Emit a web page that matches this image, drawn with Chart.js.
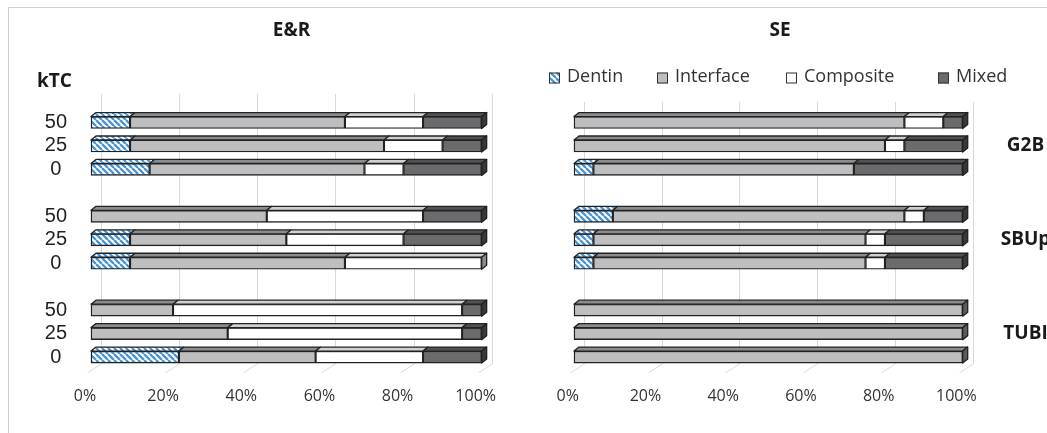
<!DOCTYPE html>
<html>
<head>
<meta charset="utf-8">
<script src="https://cdn.jsdelivr.net/npm/chart.js@4.4.1/dist/chart.umd.min.js"></script>
<style>
  html, body { margin: 0; padding: 0; background: #fff; overflow: hidden; width: 1047px; height: 433px; }
  #frame { position: absolute; left: 8px; top: 7px; width: 1200px; height: 600px;
           border-top: 1px solid #cfcfcf; border-left: 1px solid #cfcfcf; }
  #wrapL { position: absolute; left: 0; top: 0; width: 520px; height: 433px; }
  #wrapR { position: absolute; left: 520px; top: 0; width: 560px; height: 433px; }
</style>
</head>
<body>
<div id="frame"></div>
<div id="wrapL"><canvas id="chartER"></canvas></div>
<div id="wrapR"><canvas id="chartSE"></canvas></div>
<script>
// Rows: three kTC levels per adhesive, blank rows separate the groups
const rowLabels   = ['50', '25', '0', '', '50', '25', '0', '', '50', '25', '0'];
const groupLabels = ['', 'G2B', '', '', '', 'SBUp', '', '', '', 'TUBI', ''];
const seriesNames = ['Dentin', 'Interface', 'Composite', 'Mixed'];
const xTicks      = [0, 20, 40, 60, 80, 100];

// E&R (% of specimens per failure mode)
const erDentin    = [10, 10, 15, null, 0, 10, 10, null, 0, 0, 22.5];
const erInterface = [55, 65, 55, null, 45, 40, 55, null, 21, 35, 35];
const erComposite = [20, 15, 10, null, 40, 30, 35, null, 74, 60, 27.5];
const erMixed     = [15, 10, 20, null, 15, 20, 0, null, 5, 5, 15];

// SE
const seDentin    = [0, 0, 5, null, 10, 5, 5, null, 0, 0, 0];
const seInterface = [85, 80, 67, null, 75, 70, 70, null, 100, 100, 100];
const seComposite = [10, 5, 0, null, 5, 5, 5, null, 0, 0, 0];
const seMixed     = [5, 15, 28, null, 10, 20, 20, null, 0, 0, 0];

Chart.defaults.font.family = "'Open Sans', 'Noto Sans', sans-serif";

// Blue hatch used for the Dentin segments
function hatch() {
  const s = 6;
  const c = document.createElement('canvas');
  c.width = c.height = s;
  const g = c.getContext('2d');
  g.fillStyle = '#ffffff';
  g.fillRect(0, 0, s, s);
  g.strokeStyle = '#4a94d4';
  g.lineWidth = 2.3;
  g.beginPath();
  for (const k of [-1, 0, 1]) { g.moveTo(k * s, 0); g.lineTo(k * s + s, s); }
  g.stroke();
  return g.createPattern(c, 'repeat');
}
const pat = hatch();

const faces = {
  Dentin:    { front: pat,       top: pat,       side: pat },
  Interface: { front: '#bebec0', top: '#8c8c8e', side: '#5c5c5e' },
  Composite: { front: '#ffffff', top: '#d0d0d0', side: '#8a8a8a' },
  Mixed:     { front: '#6b6b6d', top: '#515153', side: '#38383a' }
};

const DX = 5, DY = 4;       // depth of the bar extrusion
const OUTLINE = '#222222';

// Back-wall gridlines plus the extruded top / side faces of each bar
const bar3d = {
  id: 'bar3d',
  beforeDatasetsDraw(chart, args, opts) {
    const { ctx, chartArea: a, scales: { x } } = chart;
    ctx.save();
    ctx.strokeStyle = '#d9d9d9';
    ctx.lineWidth = 1;
    for (const v of xTicks) {
      const gx = Math.round(x.getPixelForValue(v) + opts.back) + 0.5;
      ctx.beginPath();
      ctx.moveTo(gx, opts.gridTop);
      ctx.lineTo(gx, a.bottom - 5);
      ctx.lineTo(gx - 14, a.bottom + 4);
      ctx.stroke();
    }
    ctx.restore();
  },
  afterDatasetsDraw(chart) {
    const ctx = chart.ctx;
    const n = chart.data.labels.length;
    ctx.save();
    ctx.strokeStyle = OUTLINE;
    ctx.lineWidth = 1.3;
    ctx.lineJoin = 'round';
    for (let i = 0; i < n; i++) {
      let last = null;
      chart.data.datasets.forEach((ds, d) => {
        const el = chart.getDatasetMeta(d).data[i];
        if (!el) return;
        const p = el.getProps(['x', 'y', 'base', 'height'], true);
        if (p.x == null || isNaN(p.x) || Math.abs(p.x - p.base) < 0.5) return;
        const l = Math.min(p.x, p.base), r = Math.max(p.x, p.base);
        const t = p.y - p.height / 2;
        ctx.beginPath();
        ctx.moveTo(l, t); ctx.lineTo(r, t);
        ctx.lineTo(r + DX, t - DY); ctx.lineTo(l + DX, t - DY);
        ctx.closePath();
        ctx.fillStyle = ds.topColor;
        ctx.fill();
        ctx.stroke();
        last = { r, t, b: t + p.height, c: ds.sideColor };
      });
      if (last) {
        ctx.beginPath();
        ctx.moveTo(last.r, last.t);
        ctx.lineTo(last.r + DX, last.t - DY);
        ctx.lineTo(last.r + DX, last.b - DY);
        ctx.lineTo(last.r, last.b);
        ctx.closePath();
        ctx.fillStyle = last.c;
        ctx.fill();
        ctx.stroke();
      }
    }
    ctx.restore();
  }
};

// Panel headings and axis caption
const headings = {
  id: 'headings',
  afterDraw(chart, args, opts) {
    const ctx = chart.ctx;
    ctx.save();
    ctx.textBaseline = 'middle';
    ctx.fillStyle = '#1a1a1a';
    for (const t of opts.items) {
      ctx.font = t.font;
      ctx.textAlign = t.align;
      ctx.fillText(t.text, t.x, t.y);
    }
    ctx.restore();
  }
};

// Legend row built from the datasets
const swatches = {
  id: 'swatches',
  afterDraw(chart, args, opts) {
    if (!opts.show) return;
    const ctx = chart.ctx;
    ctx.save();
    ctx.textBaseline = 'middle';
    ctx.textAlign = 'left';
    ctx.font = "18px 'Open Sans', 'Noto Sans', sans-serif";
    chart.data.datasets.forEach((ds, k) => {
      const bx = opts.xs[k], by = opts.y - 5.5;
      ctx.fillStyle = ds.backgroundColor;
      ctx.fillRect(bx, by, 11, 11);
      ctx.strokeStyle = '#333333';
      ctx.lineWidth = 1;
      ctx.strokeRect(bx + 0.5, by + 0.5, 10, 10);
      ctx.fillStyle = '#333333';
      ctx.fillText(ds.label, bx + 18, opts.y - 1);
    });
    ctx.restore();
  }
};

function datasetsFor(series) {
  return seriesNames.map((name, k) => ({
    label: name,
    data: series[k],
    backgroundColor: faces[name].front,
    topColor: faces[name].top,
    sideColor: faces[name].side,
    borderColor: OUTLINE,
    borderWidth: 1.4,
    borderSkipped: false,
    barThickness: 12,
    clip: false
  }));
}

function xAxis(labelOffset) {
  return {
    stacked: true,
    min: 0,
    max: 100,
    grid: { display: false, drawTicks: false },
    border: { display: false },
    afterBuildTicks: s => { s.ticks = xTicks.map(v => ({ value: v })); },
    ticks: {
      callback: v => v + '%',
      labelOffset: labelOffset,
      padding: 18,
      maxRotation: 0,
      font: { size: 16 },
      color: '#333333'
    },
    afterFit: s => { s.height = 64.2; }
  };
}

// E&R panel
new Chart(document.getElementById('chartER'), {
  type: 'bar',
  data: { labels: rowLabels, datasets: datasetsFor([erDentin, erInterface, erComposite, erMixed]) },
  options: {
    indexAxis: 'y',
    responsive: true,
    maintainAspectRatio: false,
    animation: false,
    events: [],
    layout: { padding: { top: 110.8, right: 37, bottom: 0, left: 0 } },
    plugins: {
      legend: { display: false },
      tooltip: { enabled: false },
      bar3d: { back: 10, gridTop: 94 },
      headings: { items: [
        { text: 'E&R', x: 291.5, y: 31, align: 'center', font: "bold 19px 'Open Sans', sans-serif" },
        { text: 'kTC', x: 37, y: 82, align: 'left', font: "bold 19px 'Open Sans', sans-serif" }
      ] },
      swatches: { show: false }
    },
    scales: {
      x: xAxis(-6),
      y: {
        stacked: true,
        grid: { display: false, drawTicks: false },
        border: { display: false },
        ticks: {
          autoSkip: false,
          crossAlign: 'center',
          padding: 24,
          font: { family: "'Liberation Sans', Arial, sans-serif", size: 20 },
          color: '#1f1f1f'
        },
        afterFit: s => { s.width = 91; }
      }
    }
  },
  plugins: [bar3d, headings, swatches]
});

// SE panel
new Chart(document.getElementById('chartSE'), {
  type: 'bar',
  data: { labels: rowLabels, datasets: datasetsFor([seDentin, seInterface, seComposite, seMixed]) },
  options: {
    indexAxis: 'y',
    responsive: true,
    maintainAspectRatio: false,
    animation: false,
    events: [],
    layout: { padding: { top: 110.8, right: 0, bottom: 0, left: 54 } },
    plugins: {
      legend: { display: false },
      tooltip: { enabled: false },
      bar3d: { back: 10, gridTop: 102 },
      headings: { items: [
        { text: 'SE', x: 260, y: 31, align: 'center', font: "bold 19px 'Open Sans', sans-serif" }
      ] },
      swatches: { show: true, xs: [29, 137, 266, 418], y: 78 }
    },
    scales: {
      x: xAxis(-6.3),
      y: { stacked: true, display: false },
      y2: {
        type: 'category',
        labels: groupLabels,
        position: 'right',
        offset: true,
        grid: { display: false, drawTicks: false },
        border: { display: false },
        ticks: {
          autoSkip: false,
          crossAlign: 'center',
          padding: 38,
          font: { size: 19, weight: 'bold' },
          color: '#1a1a1a'
        },
        afterFit: s => { s.width = 117.3; }
      }
    }
  },
  plugins: [bar3d, headings, swatches]
});
</script>
</body>
</html>
